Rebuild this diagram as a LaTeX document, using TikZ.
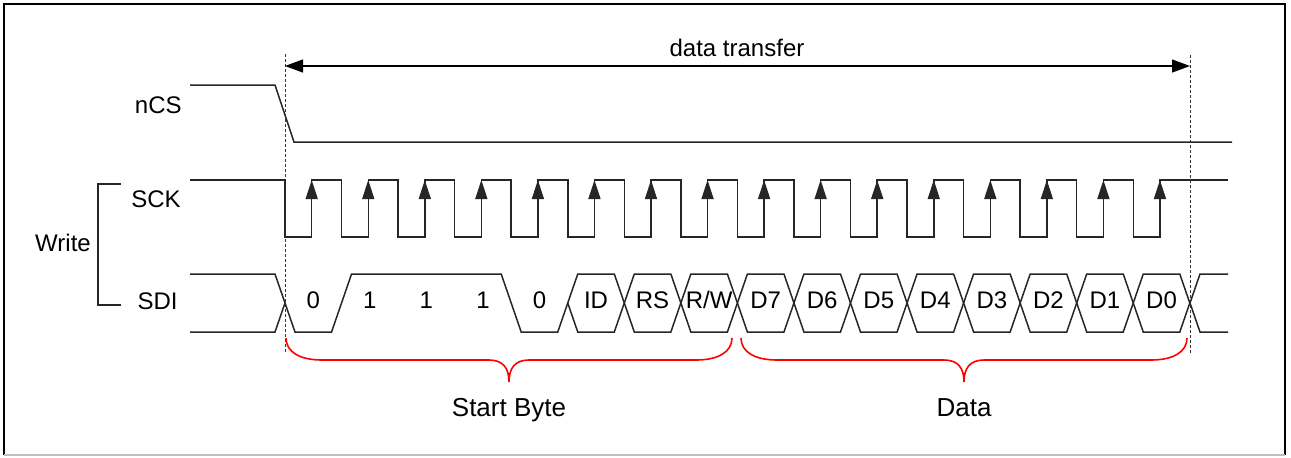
\documentclass[tikz,border=0pt]{standalone}
\usepackage{fontspec}
\setmainfont{Liberation Sans}
\usetikzlibrary{arrows.meta}
\tikzset{
	signal/.style={line width=0.75pt, black!85, line join=miter},
	guide/.style={line width=0.5pt, black!80, dash pattern=on 1.5pt off 1pt},
	lbl/.style={font=\fontsize{12}{14}\selectfont, anchor=base, inner sep=0pt},
	bracered/.style={line width=0.8pt, red},
}

\begin{document}
\begin{tikzpicture}[x=0.5pt, y=-0.5pt]
					\useasboundingbox (0,0) rectangle (1291,457);
					\pgfmathsetmacro\xstart{285}
					\pgfmathsetmacro\bitw{56.55}
					
					\draw[line width=1pt] (4,455) -- (4,4) -- (1285,4) -- (1285,455);
					\draw[line width=1pt, black!25] (4,455) -- (1285,455);
					
					\node[lbl, anchor=base east] (ncs) at (182,113) {nCS};
					\node[lbl, anchor=base east] (sck) at (181,207) {SCK};
					\node[lbl, anchor=base east] (sdi) at (178,309) {SDI};
					\node[lbl] (write) at (63,251) {Write};
					\draw[signal] (121,184) -- (98,184) -- (98,305) -- (121,305);
					
					\coordinate (tstart) at (285,66);
					\coordinate (tend) at (1190,66);
					\draw[guide] (285,54) -- (285,354);
					\draw[guide] (1190,55) -- (1190,353);
					\draw[line width=0.6pt, {Triangle[length=9pt, width=6.5pt]}-{Triangle[length=9pt, width=6.5pt]}] (tstart) -- (tend);
					\node[lbl] (transfer) at (737,56) {data transfer};
					
					\draw[signal] (190,85) -- (275,85) -- (294,142) -- (1232,142);
					
					\draw[signal] (190,180) \foreach \k in {0,...,15}{ -- ({\xstart+\k*\bitw},180) -- ({\xstart+\k*\bitw},237) -- ({\xstart+\k*\bitw+26.7},237) -- ({\xstart+\k*\bitw+26.7},180)} -- (1228,180);
					\foreach \k in {0,...,15}
						\draw[signal, -{Triangle[length=9.5pt, width=6pt]}] ({\xstart+\k*\bitw+26.7},237) -- ({\xstart+\k*\bitw+26.7},180);
					
					\draw[signal] (190,274) -- (275,274) -- (295,332) -- ({\xstart+\bitw-10},332) -- ({\xstart+\bitw+10},274) -- ({\xstart+4*\bitw-10},274) -- ({\xstart+4*\bitw+10},332) -- ({\xstart+5*\bitw-10},332) -- ({\xstart+5*\bitw},303);
					\draw[signal] (190,332) -- (275,332) -- (285,303);
					\foreach \k in {5,...,15}
						\draw[signal] ({\xstart+\k*\bitw},303) -- ({\xstart+\k*\bitw+10},274) -- ({\xstart+(\k+1)*\bitw-10},274) -- ({\xstart+(\k+1)*\bitw},303) -- ({\xstart+(\k+1)*\bitw-10},332) -- ({\xstart+\k*\bitw+10},332) -- cycle;
					\draw[signal] (1228,274) -- (1200,274) -- (1190,303) -- (1200,332) -- (1228,332);
					
					\foreach \bit [count=\k from 0] in {0,1,1,1,0,ID,RS,{R/W},D7,D6,D5,D4,D3,D2,D1,D0}
						\node[lbl] (bit\k) at ({\xstart+(\k+0.5)*\bitw},308) {\bit};
					
					\foreach \xl/\xr/\txt [count=\i] in {286/732/Start Byte, 741/1187/Data}{
						\pgfmathsetmacro\xm{(\xl+\xr)/2}
						\draw[bracered] (\xl,338) .. controls (\xl,352) and ({\xl+14},360) .. ({\xl+36},360) -- ({\xm-20},360) .. controls ({\xm-6},360) and (\xm,368) .. (\xm,382) .. controls (\xm,368) and ({\xm+6},360) .. ({\xm+20},360) -- ({\xr-36},360) .. controls ({\xr-14},360) and (\xr,352) .. (\xr,338);
						\node[lbl, font=\fontsize{13}{15}\selectfont] (brace\i) at (\xm,416) {\txt};
					}
				\end{tikzpicture}
\end{document}
